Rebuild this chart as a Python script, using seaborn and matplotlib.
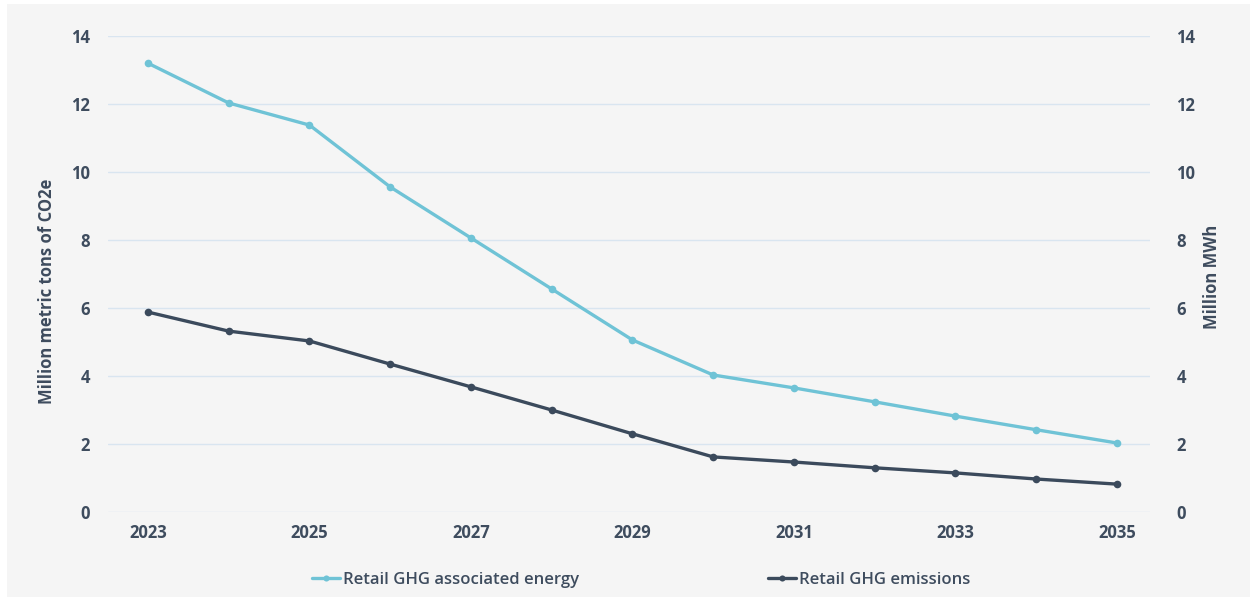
import matplotlib
matplotlib.use("Agg")
import matplotlib.pyplot as plt
import seaborn as sns
import pandas as pd
from matplotlib.patches import Rectangle

years = [2023, 2024, 2025, 2026, 2027, 2028, 2029, 2030, 2031, 2032, 2033, 2034, 2035]
energy = [13.2, 12.03, 11.38, 9.56, 8.06, 6.56, 5.06, 4.03, 3.65, 3.24, 2.82, 2.42, 2.03]
emissions = [5.88, 5.32, 5.03, 4.35, 3.68, 3.0, 2.3, 1.62, 1.47, 1.3, 1.15, 0.97, 0.82]
yticks = [0, 2, 4, 6, 8, 10, 12, 14]
energy_label = "Retail GHG associated energy"
emissions_label = "Retail GHG emissions"
left_title = "Million metric tons of CO2e"
right_title = "Million MWh"

sns.set_theme(style="white")
plt.rcParams['font.family'] = ['Open Sans', 'DejaVu Sans']

c_energy = "#6fc3d6"
c_emis = "#3b4a5c"
c_text = "#3e4c5e"
c_grid = "#d9e5f0"
bg = "#f5f5f5"
fs = 12

df = pd.DataFrame({"idx": range(len(years)), "energy": energy, "emissions": emissions})

fig = plt.figure(figsize=(12.5, 5.98), dpi=100, facecolor="white")
fig.patches.append(Rectangle((7/1250, 1-597/598), (1250-7)/1250, (597-4)/598,
                             transform=fig.transFigure, facecolor=bg, edgecolor="none", zorder=-10))
ax = fig.add_axes([108/1250, 1-512/598, (1150-108)/1250, (512-36)/598])
ax.set_facecolor("none")
ax2 = ax.twinx()
ax2.set_position(ax.get_position())

sns.lineplot(data=df, x="idx", y="emissions", ax=ax, color=c_emis, linewidth=2.4,
             marker="o", markersize=5.5, markeredgewidth=0, label=emissions_label, legend=False)
sns.lineplot(data=df, x="idx", y="energy", ax=ax2, color=c_energy, linewidth=2.4,
             marker="o", markersize=5.5, markeredgewidth=0, label=energy_label, legend=False)

n = len(years)
for a in (ax, ax2):
    a.set_ylim(0, 14)
    a.set_yticks(yticks)
    a.set_xlim(-0.495, n - 1 + 0.41)
    for s in a.spines.values():
        s.set_visible(False)
    a.tick_params(length=0, labelsize=fs, colors=c_text)
    for lab in a.get_yticklabels():
        lab.set_fontweight("bold")

ax.grid(axis="y", color=c_grid, linewidth=1)
ax.set_axisbelow(True)
ax.set_xticks(range(0, n, 2))
ax.set_xticklabels([str(years[i]) for i in range(0, n, 2)], fontweight="bold",
                   fontsize=fs, color=c_text)
ax.tick_params(axis="x", pad=9)
ax.tick_params(axis="y", pad=13)
ax2.tick_params(axis="y", pad=19)
ax.set_xlabel("")
ax.set_ylabel(left_title, fontsize=fs, fontweight="bold", color=c_text)
ax2.set_ylabel(right_title, fontsize=fs, fontweight="bold", color=c_text)
ax.yaxis.set_label_coords((47 - 108) / 1042, (512 - 291) / 476)
ax.yaxis.label.set_va("center")
ax2.yaxis.set_label_coords((1212 - 108) / 1042, (512 - 277) / 476)
ax2.yaxis.label.set_va("center")

h1, l1 = ax2.get_legend_handles_labels()
h2, l2 = ax.get_legend_handles_labels()
leg = fig.legend(h1 + h2, l1 + l2, loc="center", bbox_to_anchor=(0.513, 1-580/598), ncol=2,
                 frameon=False, fontsize=fs, columnspacing=11.35, handlelength=1.7,
                 handletextpad=0.15, markerscale=0.8)
for t in leg.get_texts():
    t.set_color(c_text)
    t.set_fontweight("semibold")

fig.savefig("out.png", dpi=100, facecolor="white")
